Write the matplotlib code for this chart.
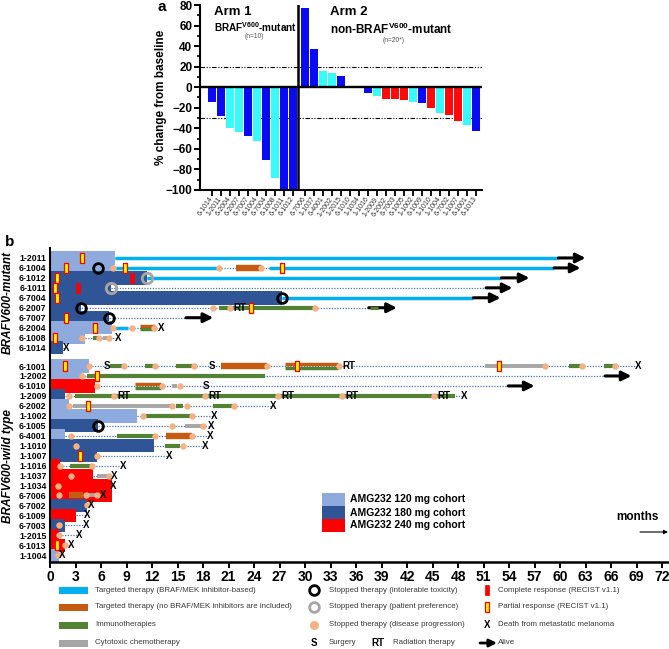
import matplotlib
matplotlib.use("Agg")
import matplotlib.pyplot as plt
from matplotlib.ticker import MultipleLocator
from matplotlib.patches import Rectangle
from matplotlib.lines import Line2D

plt.rcParams['font.family'] = ['Liberation Sans', 'DejaVu Sans']
plt.rcParams['mathtext.fontset'] = 'custom'
plt.rcParams['mathtext.rm'] = 'Liberation Sans'
plt.rcParams['mathtext.bf'] = 'Liberation Sans:bold'
plt.rcParams['mathtext.it'] = 'Liberation Sans:italic'

# ---------------- Panel a data ----------------
arm1_ids = ["6-1014", "1-2011", "6-2004", "6-2007", "6-7007", "6-1004", "6-7004", "6-1008", "6-1011", "6-1012"]
arm1_change = [-14, -28, -40, -44, -47, -52, -71, -88, -100, -100]
arm1_color = ["B", "B", "C", "C", "B", "C", "B", "C", "B", "B"]
arm2_ids = ["6-7006", "1-1037", "6-4001", "1-2002", "1-2015", "6-1010", "1-1034", "1-1016", "1-2009", "6-2002",
            "6-7003", "6-1005", "1-1002", "6-1009", "1-1010", "1-1004", "6-7002", "1-1007", "6-1001", "6-1013"]
arm2_change = [77, 37, 16, 14, 11, 0, 0, -5.5, -8.5, -11, -11, -12.5, -14, -15, -20, -25, -27, -33, -37, -42.5]
arm2_color = ["B", "B", "C", "C", "B", "B", "B", "B", "C", "R", "R", "R", "C", "B", "R", "C", "R", "R", "C", "B"]
progression_line = 20
response_line = -30

# ---------------- Panel b data ----------------
patients = ["1-2011", "6-1004", "6-1012", "6-1011", "6-7004", "6-2007", "6-7007", "6-2004", "6-1008", "6-1014",
            "6-1001", "1-2002", "6-1010", "1-2009", "6-2002", "1-1002", "6-1005", "6-4001", "1-1010", "1-1007",
            "1-1016", "1-1037", "1-1034", "6-7006", "6-7002", "6-1009", "6-7003", "1-2015", "6-1013", "1-1004"]
cohort_dose = [120, 120, 180, 180, 180, 180, 180, 120, 120, 180,
               120, 120, 240, 180, 120, 120, 180, 120, 180, 180,
               240, 240, 240, 240, 180, 240, 180, 240, 240, 120]
study_months = [7.6, 7.5, 11.4, 7.2, 27.3, 3.7, 6.9, 7.3, 4.1, 1.5,
                4.6, 3.8, 5.3, 1.8, 2.2, 10.2, 5.7, 1.8, 12.2, 5.5,
                1.2, 5.1, 7.3, 7.3, 4.3, 3.1, 1.8, 1.0, 1.8, 1.1]

braf_targeted = [("1-2011", 7.6, 59.8), ("6-1004", 7.6, 19.6), ("6-1004", 25.8, 59.3),
                 ("6-1012", 11.4, 53.1), ("6-7004", 27.3, 49.8), ("6-2004", 7.6, 9.2)]
other_targeted = [("6-1004", 21.9, 24.8), ("6-1001", 20.1, 25.5), ("6-4001", 13.6, 16.7), ("6-7006", 2.2, 3.9)]
combo_targeted_immuno = [("6-2004", 10.6, 12.4), ("6-1001", 27.6, 33.9), ("6-1010", 10.0, 13.1)]
immuno = [("6-2007", 19.9, 31.2), ("6-1008", 5.0, 5.8), ("6-1001", 7.1, 8.7), ("6-1001", 11.2, 12.4),
          ("6-1001", 14.8, 16.9), ("6-1001", 61.0, 62.5), ("6-1001", 65.2, 66.3), ("1-2002", 4.3, 25.3),
          ("1-2009", 2.9, 47.6), ("6-2002", 14.8, 15.7), ("6-2002", 19.2, 21.6), ("1-1002", 11.2, 16.7),
          ("6-4001", 7.9, 12.2), ("1-1010", 13.5, 15.3), ("1-1016", 2.3, 4.9)]
chemo = [("6-1008", 6.2, 6.9), ("6-1001", 51.2, 58.2), ("6-1010", 14.3, 14.9), ("6-2002", 2.7, 14.4),
         ("6-1005", 15.9, 18.0), ("1-1037", 5.5, 6.9), ("6-7006", 4.3, 5.4)]

progression_stops = [("6-1004", 7.4), ("6-1004", 19.9), ("6-1004", 24.8), ("6-2007", 19.2), ("6-2007", 21.2),
                     ("6-2007", 31.2), ("6-2004", 7.4), ("6-2004", 9.7), ("6-2004", 12.2), ("6-1008", 3.8),
                     ("6-1008", 5.8), ("6-1008", 6.9), ("6-1001", 4.6), ("6-1001", 8.7), ("6-1001", 12.4),
                     ("6-1001", 16.9), ("6-1001", 25.5), ("6-1001", 34.0), ("6-1001", 58.2), ("6-1001", 62.6),
                     ("6-1001", 66.5), ("1-2002", 3.8), ("6-1010", 5.5), ("6-1010", 13.2), ("6-1010", 15.3),
                     ("1-2009", 2.2), ("1-2009", 7.5), ("1-2009", 18.2), ("1-2009", 26.8), ("1-2009", 34.3),
                     ("1-2009", 45.2), ("6-2002", 2.2), ("6-2002", 14.4), ("6-2002", 16.1), ("6-2002", 21.7),
                     ("1-1002", 10.9), ("1-1002", 16.7), ("6-1005", 14.3), ("6-1005", 18.0), ("6-4001", 2.5),
                     ("6-4001", 12.4), ("6-4001", 16.7), ("1-1010", 3.1), ("1-1010", 15.7), ("1-1007", 5.5),
                     ("1-1016", 1.2), ("1-1016", 4.9), ("1-1037", 2.5), ("1-1037", 6.9), ("1-1034", 0.9),
                     ("6-7006", 1.0), ("6-7006", 4.2), ("6-7006", 5.5), ("6-7002", 4.3), ("6-7003", 1.1),
                     ("1-2015", 1.1), ("6-1013", 1.8), ("1-1004", 0.9)]
toxicity_stops = [("6-1004", 5.7), ("6-7004", 27.3), ("6-2007", 3.7), ("6-7007", 6.9), ("6-1005", 5.7)]
preference_stops = [("6-1012", 11.4), ("6-1011", 7.2)]
complete_resp = [("6-1012", 9.6), ("6-1011", 3.3)]
partial_resp = [("1-2011", 3.8), ("6-1004", 1.85), ("6-1004", 8.8), ("6-1004", 27.3), ("6-1012", 0.8),
                ("6-1011", 0.6), ("6-7004", 0.8), ("6-2007", 23.6), ("6-7007", 1.85), ("6-2004", 5.3),
                ("6-1008", 0.6), ("6-1001", 1.8), ("6-1001", 29.1), ("6-1001", 52.8), ("1-2002", 5.5),
                ("6-2002", 4.5), ("1-1007", 3.5), ("6-1013", 0.8)]
surgery = [("6-1001", 6.7), ("6-1001", 19.0), ("6-1010", 18.4)]
radiation = [("6-2007", 21.6), ("6-1001", 34.4), ("1-2009", 7.9), ("1-2009", 18.6), ("1-2009", 27.2),
             ("1-2009", 34.7), ("1-2009", 45.6)]
deaths = [("6-2004", 13.1), ("6-1008", 8.0), ("6-1014", 1.9), ("6-1001", 69.2), ("1-2009", 48.7),
          ("6-2002", 26.2), ("1-1002", 19.3), ("6-1005", 19.0), ("6-4001", 18.8), ("1-1010", 18.2),
          ("1-1007", 14.0), ("1-1016", 8.6), ("1-1037", 7.6), ("1-1034", 7.4), ("6-7006", 6.3),
          ("6-7002", 4.9), ("6-1009", 4.4), ("6-7003", 4.3), ("1-2015", 3.4), ("6-1013", 2.5), ("1-1004", 1.4)]
alive = [("1-2011", 59.8, 63.0), ("6-1004", 59.3, 62.4), ("6-1012", 53.1, 56.4), ("6-1011", 51.3, 54.4),
         ("6-7004", 49.8, 53.0), ("6-2007", 37.5, 40.8), ("6-7007", 16.0, 19.2), ("1-2002", 65.3, 68.4),
         ("6-1010", 53.9, 57.0)]
month_ticks = list(range(0, 73, 3))

# ---------------- styling ----------------
W, H = 669, 649
def fx(px):
    return px / W
def fy(py):
    return 1 - py / H

bar_cols = {"B": "#0A0AF5", "C": "#38FAFA", "R": "#FF0A0A"}
dose_cols = {120: "#8FAADC", 180: "#2F5597", 240: "#FF0000"}
C_TT, C_TO, C_IO, C_CH = "#00B0F0", "#C55A11", "#548235", "#A6A6A6"
C_PD, C_DOT = "#F4B183", "#4472C4"
rect_marker = [(-0.45, -1), (0.45, -1), (0.45, 1), (-0.45, 1), (-0.45, -1)]
cr_marker = [(-0.33, -1), (0.33, -1), (0.33, 1), (-0.33, 1), (-0.33, -1)]

fig = plt.figure(figsize=(6.69, 6.49), dpi=100)

# ================= Panel a =================
ax = fig.add_axes([fx(200), fy(190), fx(482) - fx(200), fy(5) - fy(190)])
x1 = list(range(len(arm1_ids)))
x2 = [10.3 + i for i in range(len(arm2_ids))]
ax.bar(x1, arm1_change, width=0.86, color=[bar_cols[c] for c in arm1_color], edgecolor='none', zorder=2)
ax.bar(x2, arm2_change, width=0.86, color=[bar_cols[c] for c in arm2_color], edgecolor='none', zorder=2)
ax.set_xlim(-1.33, 30.0)
ax.set_ylim(-100, 80)
ax.axhline(0, color='k', lw=1.7, zorder=3)
ax.axvline(9.56, color='k', lw=1.8, zorder=3)
dashdot = (0, (4, 1.5, 1, 1.5, 1, 1.5))
ax.axhline(progression_line, color='k', lw=0.8, ls=dashdot, zorder=1)
ax.axhline(response_line, color='k', lw=0.8, ls=dashdot, zorder=1)
for s in ['top', 'right']:
    ax.spines[s].set_visible(False)
for s in ['left', 'bottom']:
    ax.spines[s].set_linewidth(1.5)
ax.yaxis.set_major_locator(MultipleLocator(20))
ax.yaxis.set_minor_locator(MultipleLocator(10))
ax.tick_params(axis='y', which='major', length=4, width=1.4, labelsize=8.5, pad=1.5)
ax.tick_params(axis='y', which='minor', length=2.5, width=1.2)
for t in ax.get_yticklabels():
    t.set_fontweight('bold')
ax.set_xticks(x1 + x2)
ax.set_xticklabels(arm1_ids + arm2_ids, rotation=55, ha='right', va='center',
                   rotation_mode='anchor', fontsize=5, color='#333333')
ax.tick_params(axis='x', length=4, width=1.3, pad=1.5)
ax.set_ylabel("% change from baseline", fontsize=8.5, fontweight='bold')
ax.yaxis.set_label_coords((167 - 200) / 282, 0.5)

fig.text(fx(162), fy(7), "a", fontsize=11, fontweight='bold', ha='center', va='center')
fig.text(fx(214), fy(12), "Arm 1", fontsize=9.5, fontweight='bold', ha='left', va='center')
fig.text(fx(214), fy(27), r"BRAF$^{\mathbf{V600}}$-mutant", fontsize=7.2, fontweight='bold', ha='left', va='center')
fig.text(fx(254), fy(36), "(n=10)", fontsize=4.8, color='#555555', ha='center', va='center')
fig.text(fx(330), fy(12), "Arm 2", fontsize=9.5, fontweight='bold', ha='left', va='center')
fig.text(fx(330), fy(29), r"non-BRAF$^{\mathbf{V600}}$-mutant", fontsize=8.5, fontweight='bold', ha='left', va='center')
fig.text(fx(394), fy(40), "(n=20*)", fontsize=4.8, color='#555555', ha='center', va='center')

# ================= Panel b =================
bx = fig.add_axes([fx(50), fy(561.7), fx(668) - fx(50), fy(248) - fy(561.7)])
ypos = {p: (i if i < 10 else i + 0.85) for i, p in enumerate(patients)}
ys = [ypos[p] for p in patients]
bx.barh(ys, study_months, height=1.35, color=[dose_cols[d] for d in cohort_dose], edgecolor='none', zorder=1)

# follow-up dotted lines from end of study to last event
last = {p: 0 for p in patients}
for lst in (braf_targeted, other_targeted, combo_targeted_immuno, immuno, chemo):
    for p, s, e in lst:
        last[p] = max(last[p], e)
for lst in (progression_stops, deaths):
    for p, x in lst:
        last[p] = max(last[p], x)
for p, s, e in alive:
    last[p] = max(last[p], s)
for p, se in zip(patients, study_months):
    if last[p] > se:
        bx.plot([se, last[p]], [ypos[p]] * 2, color=C_DOT, lw=0.9, ls=(0, (1, 1.2)), zorder=2)

def segs(lst, col, lw, dy=0.0, z=3):
    for p, s, e in lst:
        bx.plot([s, e], [ypos[p] + dy] * 2, color=col, lw=lw, solid_capstyle='butt', zorder=z)

segs(braf_targeted, C_TT, 2.5)
segs(other_targeted, C_TO, 4.6)
segs(immuno, C_IO, 3.0)
segs(chemo, C_CH, 2.8)
segs(combo_targeted_immuno, C_TO, 2.5, dy=-0.17, z=3.2)
segs(combo_targeted_immuno, C_IO, 2.5, dy=0.17, z=3.2)

for p, s, e in alive:
    bx.annotate('', xy=(e, ypos[p]), xytext=(s, ypos[p]),
                arrowprops=dict(arrowstyle='-|>', lw=2.2, color='k', mutation_scale=14,
                                shrinkA=0, shrinkB=0), zorder=4)
bx.plot([37.6, 38.6], [ypos["6-2007"]] * 2, color=C_IO, lw=2.2, solid_capstyle='butt', zorder=4.5)

def marks(lst, **kw):
    bx.plot([x for p, x in lst], [ypos[p] for p, x in lst], ls='none', **kw)

marks(progression_stops, marker='o', ms=4.6, mfc=C_PD, mec='none', zorder=5)
marks(toxicity_stops, marker='o', ms=7, mfc='none', mec='k', mew=2.0, zorder=6)
marks(preference_stops, marker='o', ms=7.5, mfc='none', mec=C_CH, mew=2.0, zorder=6)
marks(complete_resp, marker=cr_marker, ms=7, mfc='#FF0000', mec='#FF0000', mew=0.5, zorder=6)
marks(partial_resp, marker=rect_marker, ms=7, mfc='#FFFF00', mec='#FF0000', mew=0.9, zorder=6)
for p, x in surgery:
    bx.text(x, ypos[p], 'S', ha='center', va='center', fontsize=7, fontweight='bold', zorder=7)
for p, x in radiation:
    bx.text(x, ypos[p], 'RT', ha='left', va='center', fontsize=7, fontweight='bold', zorder=7)
for p, x in deaths:
    bx.text(x, ypos[p], 'X', ha='center', va='center', fontsize=7, fontweight='bold', zorder=7)

bx.set_xlim(0, 72.7)
bx.set_ylim(30.5, -1.0)
bx.set_yticks(ys)
bx.set_yticklabels(patients, fontsize=6.3, fontweight='bold')
bx.tick_params(axis='y', length=0, pad=2.5)
bx.set_xticks(month_ticks)
bx.set_xticklabels([str(m) for m in month_ticks], fontsize=10, fontweight='bold')
bx.tick_params(axis='x', length=4, width=1.4, pad=2)
for s in ['top', 'right']:
    bx.spines[s].set_visible(False)
bx.spines['left'].set_linewidth(1.5)
bx.spines['bottom'].set_linewidth(1.8)

fig.text(fx(10), fy(242), "b", fontsize=11, fontweight='bold', ha='center', va='center')
fig.text(fx(8), fy(303), "BRAFV600-mutant", fontsize=8.5, fontweight='bold', fontstyle='italic',
         rotation=90, ha='center', va='center')
fig.text(fx(8), fy(466), "BRAFV600-wild type", fontsize=8.5, fontweight='bold', fontstyle='italic',
         rotation=90, ha='center', va='center')

# cohort legend
cohort_labels = ["AMG232 120 mg cohort", "AMG232 180 mg cohort", "AMG232 240 mg cohort"]
for i, (d, lab) in enumerate(zip([120, 180, 240], cohort_labels)):
    top = 493 + i * 13
    fig.add_artist(Rectangle((fx(322), fy(top + 13)), fx(345) - fx(322), fy(top) - fy(top + 13),
                             transform=fig.transFigure, color=dose_cols[d], lw=0))
    fig.text(fx(350), fy(top + 6.5), lab, fontsize=7.5, fontweight='bold', ha='left', va='center')

fig.text(fx(637), fy(517), "months", fontsize=8.5, fontweight='bold', ha='center', va='center')
fig.add_artist(plt.Annotation('', xy=(fx(668), fy(532)), xytext=(fx(640), fy(532)),
                              xycoords='figure fraction', textcoords='figure fraction',
                              arrowprops=dict(arrowstyle='-|>', lw=0.8, color='k', mutation_scale=6,
                                              shrinkA=0, shrinkB=0)))

# bottom legend
leg_rows = [590, 607, 625, 643]
txtkw = dict(fontsize=5.7, color='#3A3A3A', ha='left', va='center')
col1 = [(C_TT, "Targeted therapy (BRAF/MEK inhibitor-based)"),
        (C_TO, "Targeted therapy (no BRAF/MEK inhibitors are included)"),
        (C_IO, "Immunotherapies"),
        (C_CH, "Cytotoxic chemotherapy")]
for (c, lab), yy in zip(col1, leg_rows):
    fig.add_artist(Rectangle((fx(59), fy(yy + 3.5)), fx(88) - fx(59), fy(yy - 3.5) - fy(yy + 3.5),
                             transform=fig.transFigure, color=c, lw=0))
    fig.text(fx(95), fy(yy), lab, **txtkw)

def fig_marker(px, py, **kw):
    fig.add_artist(Line2D([fx(px)], [fy(py)], transform=fig.transFigure, ls='none', **kw))

fig_marker(314, leg_rows[0], marker='o', ms=7, mfc='none', mec='k', mew=2.0)
fig.text(fx(329), fy(leg_rows[0]), "Stopped therapy (intolerable toxicity)", **txtkw)
fig_marker(314, leg_rows[1], marker='o', ms=7, mfc='none', mec=C_CH, mew=2.0)
fig.text(fx(329), fy(leg_rows[1]), "Stopped therapy (patient preference)", **txtkw)
fig_marker(314, leg_rows[2], marker='o', ms=6.5, mfc=C_PD, mec='none')
fig.text(fx(329), fy(leg_rows[2]), "Stopped therapy (disease progression)", **txtkw)
fig.text(fx(314), fy(leg_rows[3]), "S", fontsize=7, fontweight='bold', ha='center', va='center')
fig.text(fx(329), fy(leg_rows[3]), "Surgery", **txtkw)
fig.text(fx(378), fy(leg_rows[3]), "RT", fontsize=7, fontweight='bold', ha='center', va='center')
fig.text(fx(393), fy(leg_rows[3]), "Radiation therapy", **txtkw)

fig_marker(487, leg_rows[0], marker=cr_marker, ms=7, mfc='#FF0000', mec='#FF0000', mew=0.5)
fig.text(fx(498), fy(leg_rows[0]), "Complete response (RECIST v1.1)", **txtkw)
fig_marker(487, leg_rows[1], marker=rect_marker, ms=7, mfc='#FFFF00', mec='#FF0000', mew=0.9)
fig.text(fx(498), fy(leg_rows[1]), "Partial response (RECIST v1.1)", **txtkw)
fig.text(fx(487), fy(leg_rows[2]), "X", fontsize=7, fontweight='bold', ha='center', va='center')
fig.text(fx(498), fy(leg_rows[2]), "Death from metastatic melanoma", **txtkw)
fig.add_artist(plt.Annotation('', xy=(fx(497), fy(leg_rows[3])), xytext=(fx(480), fy(leg_rows[3])),
                              xycoords='figure fraction', textcoords='figure fraction',
                              arrowprops=dict(arrowstyle='-|>', lw=2.0, color='k', mutation_scale=11,
                                              shrinkA=0, shrinkB=0)))
fig.text(fx(498), fy(leg_rows[3]), "Alive", **txtkw)

fig.savefig("out.png", dpi=100)
